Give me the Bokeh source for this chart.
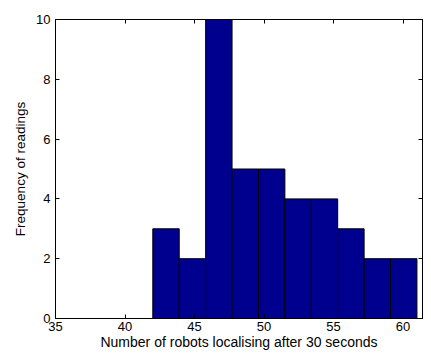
from bokeh.plotting import figure
from bokeh.models import LinearAxis, FixedTicker, Range1d
from bokeh.embed import file_html
from bokeh.resources import INLINE

bin_edges = [42.0, 43.9, 45.8, 47.7, 49.6, 51.5, 53.4, 55.3, 57.2, 59.1, 61.0]
counts = [3, 2, 10, 5, 5, 4, 4, 3, 2, 2]
x_ticks = [35, 40, 45, 50, 55, 60]
y_ticks = [0, 2, 4, 6, 8, 10]

FONT = "Liberation Sans"

p = figure(width=423, height=352, output_backend="svg", toolbar_location=None,
           x_range=Range1d(35, 61.4), y_range=Range1d(0, 10),
           min_border_left=55, min_border_right=1, min_border_top=19, min_border_bottom=31)
p.background_fill_color = "white"
p.border_fill_color = "white"
p.grid.visible = False
p.outline_line_color = "black"
p.outline_line_width = 1

p.quad(left=bin_edges[:-1], right=bin_edges[1:], bottom=0, top=counts,
       fill_color="#00008F", line_color="black", line_width=1)

def style(ax, ticks, labels=True):
    ax.ticker = FixedTicker(ticks=ticks)
    ax.major_tick_in = 4
    ax.major_tick_out = 0
    ax.minor_tick_line_color = None
    ax.axis_line_color = "black"
    ax.major_tick_line_color = "black"
    if labels:
        ax.major_label_text_font = FONT
        ax.major_label_text_font_size = "13px"
        ax.major_label_text_color = "black"
        ax.axis_label_text_font = FONT
        ax.axis_label_text_font_size = "14px"
        ax.axis_label_text_font_style = "normal"
        ax.axis_label_text_color = "black"
    else:
        ax.major_label_text_font_size = "1px"
        ax.major_label_text_color = None
        ax.major_label_standoff = 0

style(p.xaxis[0], x_ticks)
style(p.yaxis[0], y_ticks)
p.xaxis[0].axis_label = "Number of robots localising after 30 seconds"
p.yaxis[0].axis_label = "Frequency of readings"
p.yaxis[0].axis_label_text_font_size = "13.5px"
p.xaxis[0].major_label_standoff = 3
p.xaxis[0].axis_label_standoff = 0
p.yaxis[0].major_label_standoff = 5
p.yaxis[0].axis_label_standoff = 5

top_ax = LinearAxis()
style(top_ax, x_ticks, labels=False)
p.add_layout(top_ax, "above")
right_ax = LinearAxis()
style(right_ax, y_ticks, labels=False)
p.add_layout(right_ax, "right")

open("out.html", "w").write(file_html(p, INLINE))
